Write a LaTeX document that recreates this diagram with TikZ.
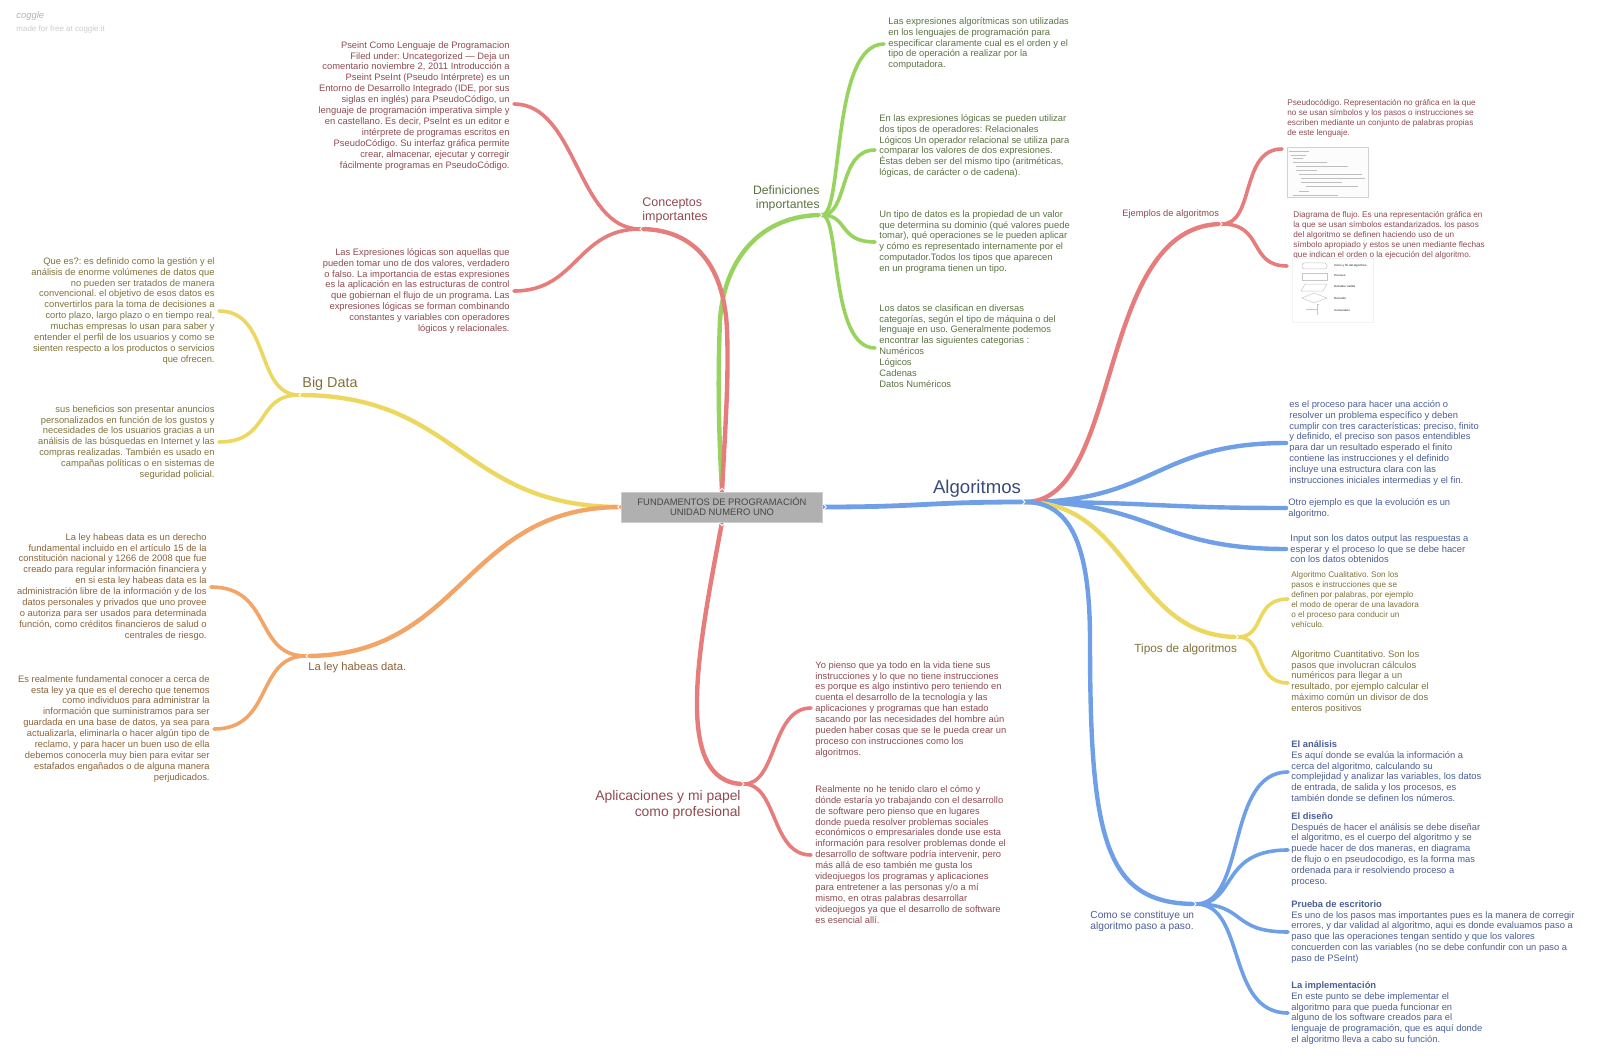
\documentclass[tikz,border=0pt]{standalone}
\usepackage{fontspec}
\setmainfont{Liberation Sans}
\usepackage{xcolor}
\usepackage{tikz}
\usetikzlibrary{calc,backgrounds}
\frenchspacing

\definecolor{limbred}{HTML}{E67C7C}
\definecolor{limbgreen}{HTML}{98D35F}
\definecolor{limbblue}{HTML}{6F9FE6}
\definecolor{limbyellow}{HTML}{ECD860}
\definecolor{limborange}{HTML}{F2A566}
\definecolor{textred}{HTML}{8F4A50}
\definecolor{textgreen}{HTML}{5A7340}
\definecolor{textblue}{HTML}{4A5E96}
\definecolor{textyellow}{HTML}{7F7238}
\definecolor{textorange}{HTML}{8C6236}

\newcommand{\limb}[5]{\draw [#1] let \p1 = (#2), \p2 = (#3) in (\p1) .. controls ({\x1+#4*(\x2-\x1)}, \y1) and ({\x1+#5*(\x2-\x1)}, \y2) .. (\p2);}

\begin{document}
\begin{tikzpicture}[x=0.5pt, y=-0.5pt,
    thickbranch/.style={line width=2.2pt, line cap=round},
    thinbranch/.style={line width=1.8pt, line cap=round},
    para/.style={inner sep=0pt, font=\fontsize{4.68}{5.45}\selectfont},
    smallpara/.style={inner sep=0pt, font=\fontsize{4.1}{5}\selectfont},
    lefttext/.style={para, anchor=north west, align=left},
    righttext/.style={para, anchor=north east, align=right},
    tinytext/.style={inner sep=0pt, anchor=west, font=\fontsize{1.4}{1.7}\selectfont\bfseries, text=black!70},
    thumb/.style={draw=black!22, line width=0.25pt}]
    \useasboundingbox (0, 0) rectangle (1600, 1064);

    \coordinate (algoritmosEnd) at (1025, 502);
    \coordinate (ejemplosEnd) at (1222, 224);
    \coordinate (pseudoEnd) at (1282, 149);
    \coordinate (flujoEnd) at (1287, 266);
    \coordinate (procesoEnd) at (1286, 443);
    \coordinate (evolucionEnd) at (1286, 508);
    \coordinate (inputEnd) at (1286, 549);
    \coordinate (tiposEnd) at (1238, 637);
    \coordinate (cualitativoEnd) at (1288, 599);
    \coordinate (cuantitativoEnd) at (1288, 683);
    \coordinate (pasosEnd) at (1196, 904);
    \coordinate (analisisEnd) at (1288, 772);
    \coordinate (disenoEnd) at (1288, 850);
    \coordinate (pruebaEnd) at (1288, 932);
    \coordinate (implementaEnd) at (1288, 1013);
    \coordinate (conceptosEnd) at (640, 229);
    \coordinate (pseintEnd) at (514, 104);
    \coordinate (logicasEnd) at (514, 291);
    \coordinate (definicionesEnd) at (822, 215);
    \coordinate (algoritmicasEnd) at (884, 44);
    \coordinate (operadoresEnd) at (875, 150);
    \coordinate (tipoDatosEnd) at (875, 242);
    \coordinate (categoriasEnd) at (875, 348);
    \coordinate (bigDataEnd) at (299, 395);
    \coordinate (queEsEnd) at (219, 311);
    \coordinate (beneficiosEnd) at (219, 442);
    \coordinate (habeasEnd) at (306, 656);
    \coordinate (derechoEnd) at (211, 587);
    \coordinate (conocerEnd) at (214, 729);
    \coordinate (aplicacionesEnd) at (744, 784);
    \coordinate (piensoEnd) at (811, 708);
    \coordinate (realmenteEnd) at (811, 855);

    \node [draw=black!20, line width=0.2pt, fill=black!31, minimum width=100.5pt, minimum height=15pt, align=center, inner sep=0pt, text=black!72, font=\fontsize{4.7}{5.4}\selectfont] (root) at (722, 507) {\raisebox{0.5pt}{FUNDAMENTOS DE PROGRAMACIÓN}\\\raisebox{0.5pt}{UNIDAD NUMERO UNO}};

    \begin{scope}[on background layer]
        % right side
        \limb{limbblue, line width=2.4pt}{root.east}{algoritmosEnd}{.5}{.5}
        \limb{limbblue, thickbranch}{algoritmosEnd}{procesoEnd}{.5}{.5}
        \limb{limbblue, thickbranch}{algoritmosEnd}{evolucionEnd}{.5}{.5}
        \limb{limbblue, thickbranch}{algoritmosEnd}{inputEnd}{.5}{.5}
        \limb{limbyellow, thickbranch}{algoritmosEnd}{tiposEnd}{.5}{.5}
        \limb{limbred, thickbranch}{algoritmosEnd}{ejemplosEnd}{.5}{.355}
        \draw [limbblue, thickbranch] (algoritmosEnd) .. controls (1068, 502) and (1090, 540) .. (1090, 640) .. controls (1090, 840) and (1105, 904) .. (pasosEnd);
        \limb{limbred, thinbranch}{ejemplosEnd}{pseudoEnd}{.55}{.3}
        \limb{limbred, thinbranch}{ejemplosEnd}{flujoEnd}{.65}{.4}
        \limb{limbyellow, thinbranch}{tiposEnd}{cualitativoEnd}{.55}{.3}
        \limb{limbyellow, thinbranch}{tiposEnd}{cuantitativoEnd}{.55}{.3}
        \limb{limbblue, thinbranch}{pasosEnd}{analisisEnd}{.55}{.32}
        \limb{limbblue, thinbranch}{pasosEnd}{disenoEnd}{.45}{.25}
        \limb{limbblue, thinbranch}{pasosEnd}{pruebaEnd}{.55}{.37}
        \limb{limbblue, thinbranch}{pasosEnd}{implementaEnd}{.55}{.32}

        % top
        \draw [limbgreen, thickbranch] (root.north) .. controls (718, 420) and (718, 370) .. (720, 320) .. controls (724, 260) and (760, 215) .. (definicionesEnd);
        \draw [limbred, thickbranch] (root.north) .. controls (725, 430) and (729, 380) .. (727, 330) .. controls (724, 260) and (690, 229) .. (conceptosEnd);
        \limb{limbred, thinbranch}{conceptosEnd}{pseintEnd}{.5}{.5}
        \limb{limbred, thinbranch}{conceptosEnd}{logicasEnd}{.5}{.5}
        \limb{limbgreen, thinbranch}{definicionesEnd}{algoritmicasEnd}{.35}{.14}
        \limb{limbgreen, thinbranch}{definicionesEnd}{operadoresEnd}{.5}{.3}
        \limb{limbgreen, thinbranch}{definicionesEnd}{tipoDatosEnd}{.5}{.3}
        \limb{limbgreen, thinbranch}{definicionesEnd}{categoriasEnd}{.35}{.14}

        % left side and bottom
        \limb{limbyellow, thickbranch}{root.west}{bigDataEnd}{.5}{.5}
        \limb{limborange, thickbranch}{root.west}{habeasEnd}{.5}{.5}
        \limb{limbyellow, thinbranch}{bigDataEnd}{queEsEnd}{.55}{.35}
        \limb{limbyellow, thinbranch}{bigDataEnd}{beneficiosEnd}{.55}{.35}
        \limb{limborange, thinbranch}{habeasEnd}{derechoEnd}{.55}{.35}
        \limb{limborange, thinbranch}{habeasEnd}{conocerEnd}{.55}{.35}
        \draw [limbred, thickbranch] (root.south) .. controls (700, 640) and (670, 784) .. (aplicacionesEnd);
        \limb{limbred, thinbranch}{aplicacionesEnd}{piensoEnd}{.5}{.4}
        \limb{limbred, thinbranch}{aplicacionesEnd}{realmenteEnd}{.5}{.4}
    \end{scope}

    \foreach \p/\a/\s in {root.east/0/1.8pt, root.west/180/1.8pt, root.north/90/1.8pt, root.south/-90/1.8pt, algoritmosEnd/0/0pt, ejemplosEnd/0/0pt, tiposEnd/0/0pt, pasosEnd/0/0pt, conceptosEnd/180/0pt, definicionesEnd/0/0pt, bigDataEnd/180/0pt, habeasEnd/180/0pt, aplicacionesEnd/0/0pt}
        \draw [white, line width=0.45pt, shift={(\p)}, rotate=\a, xshift=\s] (-1.5pt, -1.5pt) -- (0pt, 0pt) -- (-1.5pt, 1.5pt);

    % branch titles
    \node [inner sep=0pt, text=textblue!80!black, font=\fontsize{9.3}{11}\selectfont] (algoritmos) at (977, 489) {Algoritmos};
    \node [inner sep=0pt, anchor=west, text=textred, font=\fontsize{4.65}{5.6}\selectfont] (ejemplos) at (1122, 214) {Ejemplos de algoritmos};
    \node [inner sep=0pt, anchor=west, text=textyellow, font=\fontsize{5.9}{7}\selectfont] (tipos) at (1134, 649) {Tipos de algoritmos};
    \node [inner sep=0pt, anchor=north west, align=left, text=textblue, font=\fontsize{5.1}{5.6}\selectfont] (pasos) at (1090, 911) {Como se constituye un\\algoritmo paso a paso.};
    \node [inner sep=0pt, anchor=north west, align=left, text=textred, font=\fontsize{6.25}{7}\selectfont] (conceptos) at (642, 197) {Conceptos\\importantes};
    \node [inner sep=0pt, anchor=north east, align=right, text=textgreen, font=\fontsize{6.1}{7}\selectfont] (definiciones) at (820, 185) {Definiciones\\importantes};
    \node [inner sep=0pt, anchor=west, text=textyellow, font=\fontsize{7.2}{8}\selectfont] (bigData) at (302, 384) {Big Data};
    \node [inner sep=0pt, anchor=west, text=textorange, font=\fontsize{5.6}{6.6}\selectfont] (habeas) at (308, 668) {La ley habeas data.};
    \node [inner sep=0pt, anchor=north east, align=right, text=textred, font=\fontsize{6.95}{8}\selectfont] (aplicaciones) at (741, 790) {Aplicaciones y mi papel\\como profesional};

    % text of the leaves
    \node [righttext, text=textred] (pseint) at (510, 41) {Pseint Como Lenguaje de Programacion\\Filed under: Uncategorized — Deja un\\comentario noviembre 2, 2011 Introducción a\\Pseint PseInt (Pseudo Intérprete) es un\\Entorno de Desarrollo Integrado (IDE, por sus\\siglas en inglés) para PseudoCódigo, un\\lenguaje de programación imperativa simple y\\en castellano. Es decir, PseInt es un editor e\\intérprete de programas escritos en\\PseudoCódigo. Su interfaz gráfica permite\\crear, almacenar, ejecutar y corregir\\fácilmente programas en PseudoCódigo.};
    \node [righttext, text=textred] (logicas) at (510, 248) {Las Expresiones lógicas son aquellas que\\pueden tomar uno de dos valores, verdadero\\o falso. La importancia de estas expresiones\\es la aplicación en las estructuras de control\\que gobiernan el flujo de un programa. Las\\expresiones lógicas se forman combinando\\constantes y variables con operadores\\lógicos y relacionales.};
    \node [lefttext, text=textgreen] (algoritmicas) at (888, 17) {Las expresiones algorítmicas son utilizadas\\en los lenguajes de programación para\\especificar claramente cual es el orden y el\\tipo de operación a realizar por la\\computadora.};
    \node [lefttext, text=textgreen] (operadores) at (879, 114) {En las expresiones lógicas se pueden utilizar\\dos tipos de operadores: Relacionales\\Lógicos Un operador relacional se utiliza para\\comparar los valores de dos expresiones.\\Éstas deben ser del mismo tipo (aritméticas,\\lógicas, de carácter o de cadena).};
    \node [lefttext, text=textgreen] (tipoDatos) at (879, 210) {Un tipo de datos es la propiedad de un valor\\que determina su dominio (qué valores puede\\tomar), qué operaciones se le pueden aplicar\\y cómo es representado internamente por el\\computador.Todos los tipos que aparecen\\en un programa tienen un tipo.};
    \node [lefttext, text=textgreen] (categorias) at (879, 304) {Los datos se clasifican en diversas\\categorías, según el tipo de máquina o del\\lenguaje en uso. Generalmente podemos\\encontrar las siguientes categorias :\\Numéricos\\Lógicos\\Cadenas\\Datos Numéricos};
    \node [righttext, text=textyellow] (queEs) at (215, 257) {Que es?: es definido como la gestión y el\\análisis de enorme volúmenes de datos que\\no pueden ser tratados de manera\\convencional. el objetivo de esos datos es\\convertirlos para la toma de decisiones a\\corto plazo, largo plazo o en tiempo real,\\muchas empresas lo usan para saber y\\entender el perfil de los usuarios y como se\\sienten respecto a los productos o servicios\\que ofrecen.};
    \node [righttext, text=textyellow] (beneficios) at (215, 405) {sus beneficios son presentar anuncios\\personalizados en función de los gustos y\\necesidades de los usuarios gracias a un\\análisis de las búsquedas en Internet y las\\compras realizadas. También es usado en\\campañas políticas o en sistemas de\\seguridad policial.};
    \node [righttext, text=textorange] (derecho) at (207, 533) {La ley habeas data es un derecho\\fundamental incluido en el artículo 15 de la\\constitución nacional y 1266 de 2008 que fue\\creado para regular información financiera y\\en si esta ley habeas data es la\\administración libre de la información y de los\\datos personales y privados que uno provee\\o autoriza para ser usados para determinada\\función, como créditos financieros de salud o\\centrales de riesgo.};
    \node [righttext, text=textorange] (conocer) at (210, 675) {Es realmente fundamental conocer a cerca de\\esta ley ya que es el derecho que tenemos\\como individuos para administrar la\\información que suministramos para ser\\guardada en una base de datos, ya sea para\\actualizarla, eliminarla o hacer algún tipo de\\reclamo, y para hacer un buen uso de ella\\debemos conocerla muy bien para evitar ser\\estafados engañados o de alguna manera\\perjudicados.};
    \node [lefttext, text=textred] (pienso) at (815, 661) {Yo pienso que ya todo en la vida tiene sus\\instrucciones y lo que no tiene instrucciones\\es porque es algo instintivo pero teniendo en\\cuenta el desarrollo de la tecnología y las\\aplicaciones y programas que han estado\\sacando por las necesidades del hombre aún\\pueden haber cosas que se le pueda crear un\\proceso con instrucciones como los\\algoritmos.};
    \node [lefttext, text=textred] (realmente) at (815, 785) {Realmente no he tenido claro el cómo y\\dónde estaría yo trabajando con el desarrollo\\de software pero pienso que en lugares\\donde pueda resolver problemas sociales\\económicos o empresariales donde use esta\\información para resolver problemas donde el\\desarrollo de software podría intervenir, pero\\más allá de eso también me gusta los\\videojuegos los programas y aplicaciones\\para entretener a las personas y/o a mí\\mismo, en otras palabras desarrollar\\videojuegos ya que el desarrollo de software\\es esencial allí.};
    \node [lefttext, smallpara, text=textred] (pseudo) at (1287, 99) {Pseudocódigo. Representación no gráfica en la que\\no se usan símbolos y los pasos o instrucciones se\\escriben mediante un conjunto de palabras propias\\de este lenguaje.};
    \node [lefttext, smallpara, text=textred] (flujo) at (1293, 211) {Diagrama de flujo. Es una representación gráfica en\\la que se usan símbolos estandarizados. los pasos\\del algoritmo se definen haciendo uso de un\\símbolo apropiado y estos se unen mediante flechas\\que indican el orden o la ejecución del algoritmo.};
    \node [lefttext, text=textblue] (proceso) at (1289, 400) {es el proceso para hacer una acción o\\resolver un problema específico y deben\\cumplir con tres características: preciso, finito\\y definido, el preciso son pasos entendibles\\para dar un resultado esperado el finito\\contiene las instrucciones y el definido\\incluye una estructura clara con las\\instrucciones iniciales intermedias y el fin.};
    \node [lefttext, text=textblue] (evolucion) at (1288, 498) {Otro ejemplo es que la evolución es un\\algoritmo.};
    \node [lefttext, text=textblue] (input) at (1290, 534) {Input son los datos output las respuestas a\\esperar y el proceso lo que se debe hacer\\con los datos obtenidos};
    \node [lefttext, smallpara, text=textyellow] (cualitativo) at (1291, 571) {Algoritmo Cualitativo. Son los\\pasos e instrucciones que se\\definen por palabras, por ejemplo\\el modo de operar de una lavadora\\o el proceso para conducir un\\vehículo.};
    \node [lefttext, text=textyellow] (cuantitativo) at (1291, 650) {Algoritmo Cuantitativo. Son los\\pasos que involucran cálculos\\numéricos para llegar a un\\resultado, por ejemplo calcular el\\máximo común un divisor de dos\\enteros positivos};
    \node [lefttext, text=textblue] (analisis) at (1291, 740) {\textbf{El análisis}\\Es aquí donde se evalúa la información a\\cerca del algoritmo, calculando su\\complejidad y analizar las variables, los datos\\de entrada, de salida y los procesos, es\\también donde se definen los números.};
    \node [lefttext, text=textblue] (diseno) at (1291, 812) {\textbf{El diseño}\\Después de hacer el análisis se debe diseñar\\el algoritmo, es el cuerpo del algoritmo y se\\puede hacer de dos maneras, en diagrama\\de flujo o en pseudocodigo, es la forma mas\\ordenada para ir resolviendo proceso a\\proceso.};
    \node [lefttext, text=textblue] (prueba) at (1291, 900) {\textbf{Prueba de escritorio}\\Es uno de los pasos mas importantes pues es la manera de corregir\\errores, y dar validad al algoritmo, aqui es donde evaluamos paso a\\paso que las operaciones tengan sentido y que los valores\\concuerden con las variables (no se debe confundir con un paso a\\paso de PSeInt)};
    \node [lefttext, text=textblue] (implementa) at (1291, 981) {\textbf{La implementación}\\En este punto se debe implementar el\\algoritmo para que pueda funcionar en\\alguno de los software creados para el\\lenguaje de programación, que es aquí donde\\el algoritmo lleva a cabo su función.};

    % pseudocode picture
    \draw [draw=black!18, line width=0.5pt, fill=black!1] (1287, 148) rectangle (1368, 198);
    \foreach \a/\b/\c in {151/1289/1309, 155/1291/1306, 158/1293/1303, 162/1293/1327, 166/1296/1348, 170/1296/1317, 174/1299/1362, 178/1301/1365, 182/1301/1342, 186/1306/1358, 191/1299/1309, 195/1293/1338}
        \draw [black!25, line width=0.35pt] (\b, \a) -- (\c, \a);

    % flowchart picture
    \draw [black!5, line width=0.2pt, fill=white] (1292, 258) rectangle (1373, 322);
    \draw [thumb, rounded corners=1.2pt] (1302, 263) rectangle (1327, 269);
    \draw [thumb] (1302, 273) rectangle (1327, 280);
    \draw [thumb] (1305, 284) -- (1327, 284) -- (1323, 291) -- (1301, 291) -- cycle;
    \draw [thumb] (1302, 298) -- (1314, 293) -- (1327, 298) -- (1314, 303) -- cycle;
    \draw [thumb] (1306, 309) -- (1317, 309) (1319, 304) -- (1317, 304) -- (1317, 315);
    \node [tinytext] (inicioLabel) at (1334, 266) {Inicio y fin del algoritmo};
    \node [tinytext] (procesoLabel) at (1334, 276) {Proceso};
    \node [tinytext] (entradaLabel) at (1334, 287) {Entrada / salida};
    \node [tinytext] (decisionLabel) at (1334, 298) {Decisión};
    \node [tinytext] (conectorLabel) at (1334, 310) {Comentario};

    % watermark
    \node [inner sep=0pt, anchor=west, text=black!30, font=\fontsize{4.7}{5}\selectfont\itshape] (coggle) at (16, 16) {coggle};
    \node [inner sep=0pt, anchor=west, text=black!20, font=\fontsize{4}{5}\selectfont] (madeFor) at (16, 29) {made for free at coggle.it};
\end{tikzpicture}
\end{document}
